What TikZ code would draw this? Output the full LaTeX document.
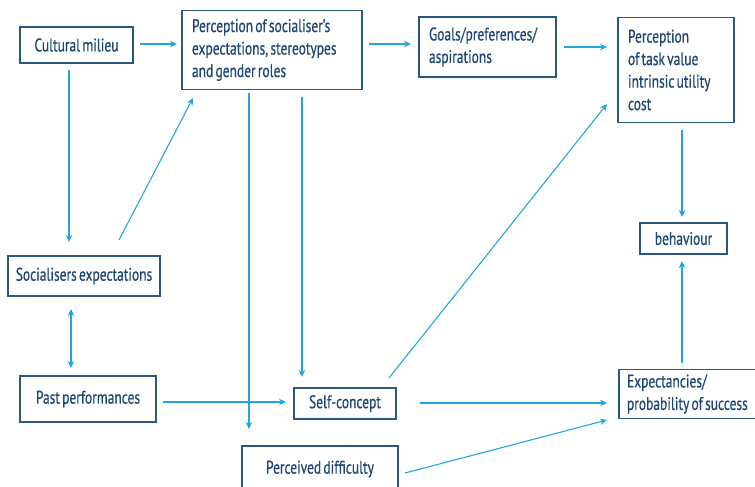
\documentclass[tikz,border=0pt]{standalone}
\usepackage{fontspec}
\setmainfont[FakeStretch=0.74,FakeBold=0.6,WordSpace=0.62]{PT Sans}
\usetikzlibrary{arrows.meta}
\definecolor{boxc}{HTML}{2A5783}
\definecolor{txtc}{HTML}{1D4675}
\definecolor{arrc}{HTML}{23A6E0}
\tikzset{
  box/.style={draw=boxc, line width=1.3pt, text=txtc, inner sep=0pt, font=\fontsize{18.2}{22.5}\selectfont},
  lbox/.style={box, align=flush left},
  arr/.style={draw=arrc, line width=1.1pt, -{Stealth[length=7pt,width=6.5pt]}},
  darr/.style={draw=arrc, line width=1.1pt, {Stealth[length=7pt,width=6.5pt]}-{Stealth[length=7pt,width=6.5pt]}}
}
\begin{document}
\begin{tikzpicture}[x=1pt,y=-1pt]
\useasboundingbox (0,0) rectangle (755,487);
\clip (0,0) rectangle (755,487);
% boxes
\node[box, minimum width=113pt, minimum height=36pt] (cult) at (76.5,45) {Cultural milieu};
\node[lbox, minimum width=180pt, minimum height=79pt, text width=160pt] (perc) at (272,50) {Perception of socialiser’s\\expectations, stereotypes\\and gender roles};
\node[lbox, minimum width=137pt, minimum height=60pt, text width=117pt] (goals) at (487.5,47) {Goals/preferences/\\aspirations};
\node[lbox, minimum width=116pt, minimum height=105pt, text width=96pt] (task) at (676,70) {Perception\\of task value\\intrinsic utility\\cost};
\node[box, minimum width=87pt, minimum height=31pt] (beh) at (683.5,238.5) {behaviour};
\node[box, minimum width=152pt, minimum height=40pt] (soc) at (84,276) {Socialisers expectations};
\node[box, minimum width=136pt, minimum height=46pt] (past) at (88,399) {Past performances};
\node[box, minimum width=102pt, minimum height=31pt] (self) at (345,403.5) {Self-concept};
\node[box, minimum width=156pt, minimum height=46pt] (diff) at (320,469) {Perceived difficulty};
\node[lbox, minimum width=150pt, minimum height=49pt, text width=134pt] (exp) at (694,394) {Expectancies/\\probability of success};
% coordinates
\coordinate (a1s) at (140,44); \coordinate (a1e) at (177,44);
\coordinate (a2s) at (69,70); \coordinate (a2e) at (69,242);
\coordinate (a3s) at (119,240); \coordinate (a3e) at (193,98);
\coordinate (a4s) at (71,309); \coordinate (a4e) at (71,368);
\coordinate (a5s) at (163,402); \coordinate (a5e) at (286,402);
\coordinate (a6s) at (249,93); \coordinate (a6e) at (249,429);
\coordinate (a7s) at (302,97); \coordinate (a7e) at (302,377);
\coordinate (a8s) at (369,44); \coordinate (a8e) at (411,44);
\coordinate (a9s) at (564,47); \coordinate (a9e) at (607,47);
\coordinate (a10s) at (389,378); \coordinate (a10e) at (607,104);
\coordinate (a11s) at (682,130); \coordinate (a11e) at (682,217);
\coordinate (a12s) at (682,363); \coordinate (a12e) at (682,261);
\coordinate (a13s) at (420,403); \coordinate (a13e) at (607,403);
\coordinate (a14s) at (405,473); \coordinate (a14e) at (607,420);
% arrows
\draw[arr] (a1s) -- (a1e);
\draw[arr] (a2s) -- (a2e);
\draw[arr] (a3s) -- (a3e);
\draw[darr] (a4s) -- (a4e);
\draw[arr] (a5s) -- (a5e);
\draw[arr] (a6s) -- (a6e);
\draw[arr] (a7s) -- (a7e);
\draw[arr] (a8s) -- (a8e);
\draw[arr] (a9s) -- (a9e);
\draw[arr] (a10s) -- (a10e);
\draw[arr] (a11s) -- (a11e);
\draw[arr] (a12s) -- (a12e);
\draw[arr] (a13s) -- (a13e);
\draw[arr] (a14s) -- (a14e);
\end{tikzpicture}
\end{document}
